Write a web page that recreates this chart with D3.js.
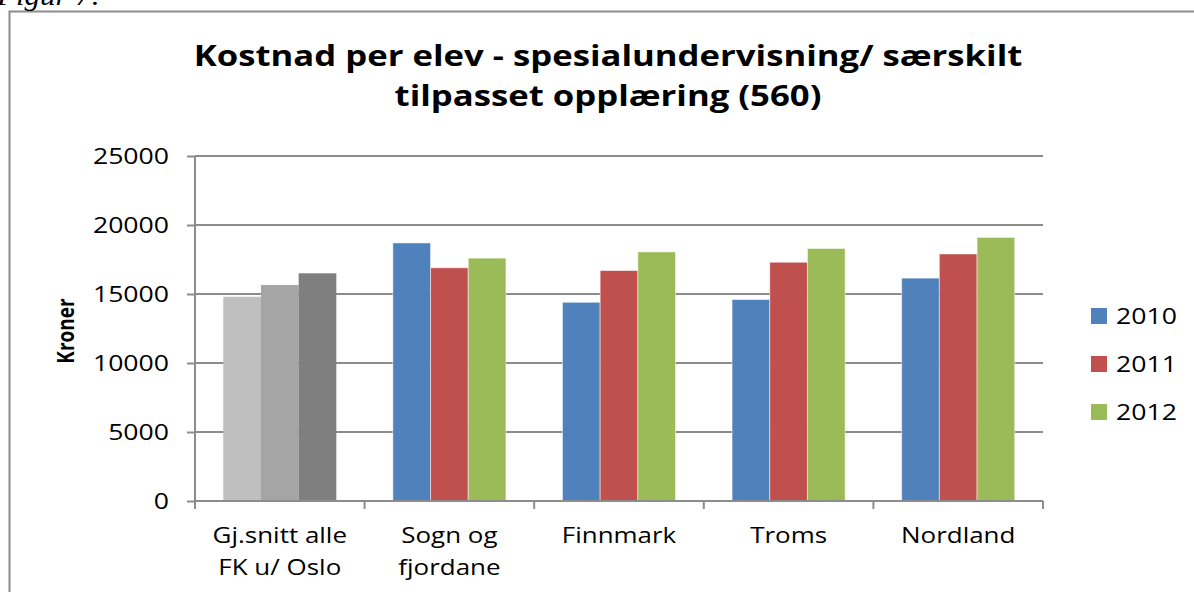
<!DOCTYPE html>
<html>
<head>
<meta charset="utf-8">
<script src="https://cdn.jsdelivr.net/npm/d3@7"></script>
<style>
  body { margin: 0; background: #fff; }
  svg { display: block; font-family: "Open Sans", sans-serif; }
</style>
</head>
<body>
<svg id="chart" width="1194" height="592"></svg>
<script>
// data
const categories = [["Gj.snitt alle", "FK u/ Oslo"], ["Sogn og", "fjordane"], ["Finnmark"], ["Troms"], ["Nordland"]];
const years = ["2010", "2011", "2012"];
const values2010 = [14800, 18700, 14400, 14600, 16150];
const values2011 = [15650, 16900, 16700, 17300, 17900];
const values2012 = [16500, 17600, 18050, 18300, 19100];
const yTicks = [0, 5000, 10000, 15000, 20000, 25000];
const seriesColors = ["#4F81BD", "#C0504D", "#9BBB59"];
const averageColors = ["#BFBFBF", "#A5A5A5", "#7F7F7F"]; // first category drawn in greys

const series = [values2010, values2011, values2012];

// the source picture is stretched sideways, so text is widened a bit
const stretch = 1.21;

const svg = d3.select("#chart");
const margin = { left: 195, right: 151, top: 156, bottom: 91 };
const width = 1194 - margin.left - margin.right;
const height = 592 - margin.top - margin.bottom;

// outer frame (runs off the page on the right and bottom)
svg.append("path")
    .attr("d", "M9.5,600 V11.5 H1200")
    .attr("fill", "none")
    .attr("stroke", "#8c8c8c")
    .attr("stroke-width", 2);

// caption cut off at the top
svg.append("text")
    .attr("transform", "translate(-3,5) scale(1.15,1)")
    .style("font-family", "'Liberation Serif', serif")
    .style("font-style", "italic")
    .style("font-size", "27px")
    .text("Figur 7:");

// title
const title = svg.append("g")
    .style("font-weight", "bold")
    .style("font-size", "28px");
[["Kostnad per elev - spesialundervisning/ særskilt", 66], ["tilpasset opplæring (560)", 106]].forEach(([t, yy]) => {
    title.append("text")
        .attr("transform", `translate(608,${yy}) scale(1.24,1)`)
        .attr("text-anchor", "middle")
        .text(t);
});

const g = svg.append("g").attr("transform", `translate(${margin.left},${margin.top})`);

const x0 = d3.scaleBand()
    .domain(d3.range(categories.length))
    .range([0, width])
    .paddingInner(0)
    .paddingOuter(0);

// gap width 150% of a bar: 3 bars + 1.5 bars per category
const barW = x0.bandwidth() / 4.5;
const x1 = d3.scaleBand()
    .domain(years)
    .range([barW * 0.75, barW * 3.75]);

const y = d3.scaleLinear().domain([0, 25000]).range([height, 0]);

// gridlines
g.append("g")
    .selectAll("line")
    .data(yTicks.slice(1))
    .join("line")
    .attr("x1", 0)
    .attr("x2", width)
    .attr("y1", d => y(d))
    .attr("y2", d => y(d))
    .attr("stroke", "#8c8c8c")
    .attr("stroke-width", 2);

// bars
const cell = g.selectAll("g.cat")
    .data(categories)
    .join("g")
    .attr("class", "cat")
    .attr("transform", (d, i) => `translate(${x0(i)},0)`);

cell.selectAll("rect")
    .data((d, i) => years.map((yr, s) => ({ yr, s, i, v: series[s][i] })))
    .join("rect")
    .attr("x", d => x1(d.yr))
    .attr("width", x1.bandwidth())
    .attr("y", d => y(d.v))
    .attr("height", d => y(0) - y(d.v))
    .attr("fill", d => d.i === 0 ? averageColors[d.s] : seriesColors[d.s])
    .attr("stroke", d => d.i === 0 ? "none" : "rgba(255,255,255,0.5)")
    .attr("stroke-width", 1);

// y axis
const yAxis = g.append("g")
    .call(d3.axisLeft(y).tickValues(yTicks).tickSize(8).tickFormat(d3.format("d")));
yAxis.select(".domain").attr("stroke", "#8c8c8c").attr("stroke-width", 2).attr("d", `M0,${height + 8}V0`);
yAxis.selectAll(".tick line").attr("stroke", "#8c8c8c").attr("stroke-width", 2);
yAxis.selectAll(".tick text")
    .attr("x", null)
    .attr("transform", `translate(-26,0) scale(${stretch},1)`)
    .attr("fill", "#000")
    .style("font-size", "22px")
    .style("font-family", "'Open Sans', sans-serif");

// x axis baseline and ticks at category boundaries
g.append("line")
    .attr("x1", 0).attr("x2", width)
    .attr("y1", height).attr("y2", height)
    .attr("stroke", "#8c8c8c").attr("stroke-width", 2);
g.append("g")
    .selectAll("line")
    .data(d3.range(categories.length + 1))
    .join("line")
    .attr("x1", i => i < categories.length ? x0(i) : width)
    .attr("x2", i => i < categories.length ? x0(i) : width)
    .attr("y1", height)
    .attr("y2", height + 8)
    .attr("stroke", "#8c8c8c")
    .attr("stroke-width", 2);

// category labels
g.append("g")
    .selectAll("g")
    .data(categories)
    .join("g")
    .attr("transform", (d, i) => `translate(${x0(i) + x0.bandwidth() / 2},${height})`)
    .each(function (d) {
        d3.select(this).selectAll("text")
            .data(d)
            .join("text")
            .attr("text-anchor", "middle")
            .attr("transform", (t, k) => `translate(0,${42 + k * 32}) scale(1.18,1)`)
            .style("font-size", "22px")
            .text(t => t);
    });

// y axis title
svg.append("text")
    .attr("transform", "translate(74,331) rotate(-90) scale(1,1.2)")
    .attr("text-anchor", "middle")
    .style("font-weight", "bold")
    .style("font-size", "19px")
    .text("Kroner");

// legend
const legend = svg.append("g").attr("transform", "translate(1091,316)");
const item = legend.selectAll("g")
    .data(years)
    .join("g")
    .attr("transform", (d, i) => `translate(0,${i * 48})`);
item.append("rect")
    .attr("x", 0).attr("y", -8)
    .attr("width", 16).attr("height", 16)
    .attr("fill", (d, i) => seriesColors[i]);
item.append("text")
    .attr("transform", `translate(25,0) scale(${stretch},1)`)
    .attr("dy", "0.35em")
    .style("font-size", "22px")
    .text(d => d);
</script>
</body>
</html>
